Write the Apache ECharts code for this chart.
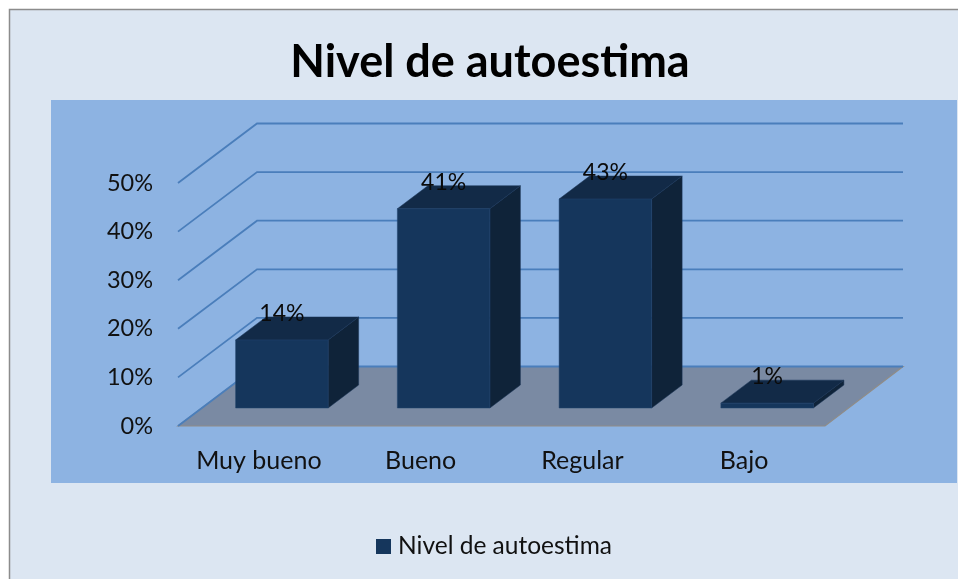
<!DOCTYPE html>
<html>
<head>
<meta charset="utf-8">
<style>html,body{margin:0;padding:0;background:#fff}#c{width:958px;height:579px}</style>
<script src="https://cdn.jsdelivr.net/npm/echarts@6/dist/echarts.min.js"></script>
</head>
<body>
<div id="c"></div>
<script>
const titleText = 'Nivel de autoestima';
const categories = ['Muy bueno', 'Bueno', 'Regular', 'Bajo'];
const values = [14, 41, 43, 1];
const tickValues = [0, 10, 20, 30, 40, 50];

const FONT = 'Lato, "Open Sans", sans-serif';
const WALL_DX = 79, WALL_DY = -59.5;   // oblique depth of the floor/walls
const BAR_OFF_X = 23, BAR_OFF_Y = -18; // bars sit mid-depth on the floor
const BAR_DX = 30.5, BAR_DY = -23;     // oblique depth of a bar
const BAR_RATIO = 0.572;

const chart = echarts.init(document.getElementById('c'), null, {renderer: 'canvas'});

function renderFloor(params, api) {
  const cs = params.coordSys;
  const y0 = api.coord([0, 0])[1];
  const x0 = cs.x, x1 = cs.x + cs.width;
  return {
    type: 'polygon',
    shape: {points: [[x0, y0], [x1, y0], [x1 + WALL_DX - 1, y0 + WALL_DY], [x0 + WALL_DX, y0 + WALL_DY]]},
    style: {fill: '#7A8AA3', stroke: '#8F8C88', lineWidth: 1.2}
  };
}

function renderGrid(params, api) {
  const cs = params.coordSys;
  const y = api.coord([0, api.value(0)])[1];
  const x0 = cs.x, x1 = cs.x + cs.width;
  return {
    type: 'polyline',
    shape: {points: [[x0, y], [x0 + WALL_DX, y + WALL_DY], [x1 + WALL_DX - 1, y + WALL_DY]]},
    style: {fill: 'none', stroke: '#4A7EBB', lineWidth: 1.8}
  };
}

function renderBar(params, api) {
  const top = api.coord([api.value(0), api.value(1)]);
  const base = api.coord([api.value(0), 0]);
  const w = api.size([1, 0])[0] * BAR_RATIO;
  const cx = base[0] + BAR_OFF_X;
  const l = cx - w / 2, r = cx + w / 2;
  const yb = base[1] + BAR_OFF_Y, yt = top[1] + BAR_OFF_Y;
  return {
    type: 'group',
    children: [
      {type: 'polygon', shape: {points: [[r, yt], [r + BAR_DX, yt + BAR_DY], [r + BAR_DX, yb + BAR_DY], [r, yb]]},
       style: {fill: '#0F2339', stroke: '#1A3556', lineWidth: 0.5}},
      {type: 'polygon', shape: {points: [[l, yt], [l + BAR_DX, yt + BAR_DY], [r + BAR_DX, yt + BAR_DY], [r, yt]]},
       style: {fill: '#122A47', stroke: '#1A3556', lineWidth: 0.5}},
      {type: 'rect', shape: {x: l, y: yt, width: w, height: yb - yt},
       style: {fill: '#15365C', stroke: '#23456F', lineWidth: 0.5}},
      {type: 'text', z2: 10, style: {x: cx, y: yt - 26.5, text: api.value(1) + '%', align: 'center', verticalAlign: 'middle',
        fill: '#0a0a0a', font: '400 23px ' + FONT}}
    ]
  };
}

chart.setOption({
  animation: false,
  backgroundColor: '#fff',
  graphic: {
    elements: [
      {type: 'rect', z: -10, silent: true, shape: {x: 9.5, y: 9.5, width: 1000, height: 1000},
       style: {fill: '#DCE6F2', stroke: '#8C8C8C', lineWidth: 1.5}},
      {type: 'rect', z: -9, silent: true, shape: {x: 51, y: 100, width: 906, height: 383},
       style: {fill: '#8DB3E2'}}
    ]
  },
  title: {
    text: titleText, left: 485, top: 35, textAlign: 'center',
    textStyle: {fontFamily: FONT, fontSize: 45, fontWeight: 'bold', color: '#000'}
  },
  legend: {
    data: [titleText], left: 376, top: 534, padding: 0,
    icon: 'rect', itemWidth: 15, itemHeight: 15, itemGap: 7,
    selectedMode: false,
    textStyle: {fontFamily: FONT, fontSize: 24.5, color: '#111', padding: [0, 0, 0, 2]}
  },
  grid: {left: 178, top: 183, width: 647, height: 243},
  xAxis: {
    type: 'category', data: categories,
    axisLine: {show: false}, axisTick: {show: false}, splitLine: {show: false},
    axisLabel: {interval: 0, hideOverlap: false, fontFamily: FONT, fontSize: 25, color: '#111', margin: 22}
  },
  yAxis: {
    type: 'value', min: 0, max: 50, interval: 10,
    axisLine: {show: false}, axisTick: {show: false}, splitLine: {show: false},
    axisLabel: {fontFamily: FONT, fontSize: 23.5, color: '#111', margin: 25, padding: [8, 0, 0, 0], formatter: '{value}%'}
  },
  tooltip: {show: false},
  series: [
    {type: 'custom', name: 'floor', silent: true, z: 1, renderItem: renderFloor, data: [0], clip: false},
    {type: 'custom', name: 'gridlines', silent: true, z: 2, renderItem: renderGrid, data: tickValues.map(v => [v]), encode: {y: 0}, clip: false},
    {type: 'custom', name: titleText, silent: true, z: 3, renderItem: renderBar, itemStyle: {color: '#15365C'},
     data: values.map((v, i) => [i, v]), encode: {x: 0, y: 1}, clip: false}
  ]
});
</script>
</body>
</html>
